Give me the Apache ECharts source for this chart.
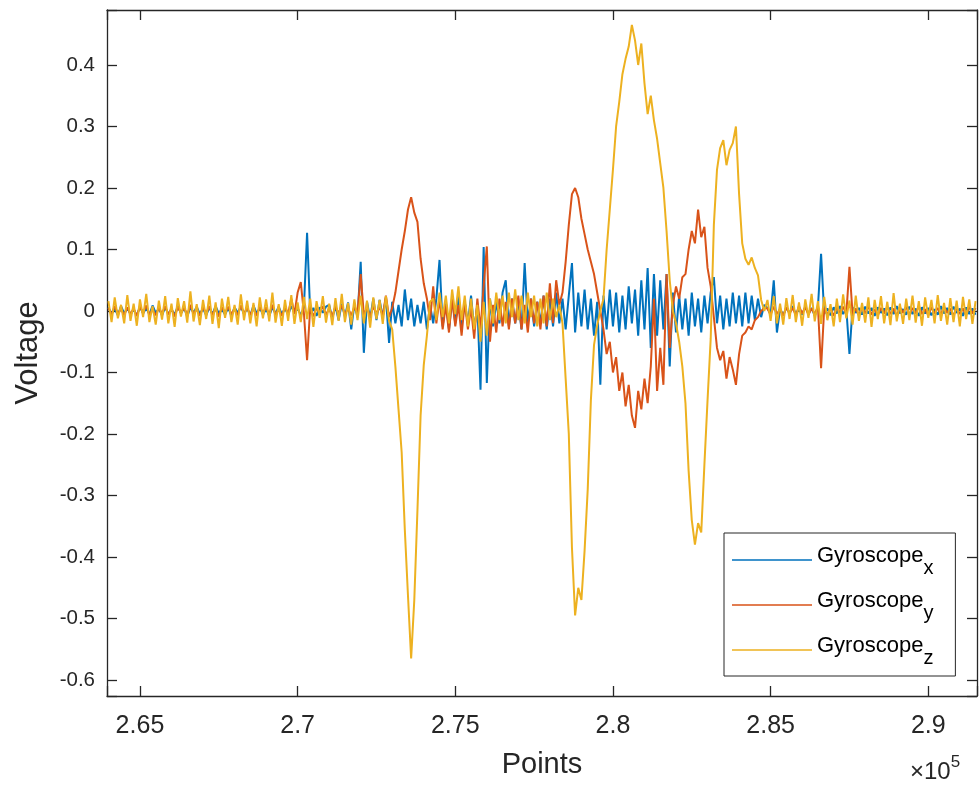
<!DOCTYPE html>
<html><head><meta charset="utf-8">
<script src="https://cdn.jsdelivr.net/npm/echarts@6/dist/echarts.min.js"></script>
<style>html,body{margin:0;padding:0;background:#fff}#c{width:980px;height:789px}</style>
</head><body><div id="c"></div>
<script>
// sample numbering of the plotted points (every 100th sample)
const sampleStart = 264000;
const sampleStep = 100;

const gyroX = [
0.006,-0.005,0.004,-0.007,0.008,-0.004,0.005,-0.006,0.003,-0.008,
0.007,-0.004,0.005,-0.006,0.009,-0.003,0.004,-0.007,0.006,-0.005,
0.003,-0.006,0.008,-0.004,0.005,-0.009,0.006,-0.003,0.007,-0.005,
0.004,-0.007,0.006,-0.005,0.008,-0.004,0.003,-0.006,0.005,-0.008,
0.006,-0.003,0.007,-0.005,0.004,-0.007,0.009,-0.004,0.005,-0.006,
0.003,-0.008,0.006,-0.004,0.007,-0.005,0.004,-0.006,0.008,-0.003,
0.005,-0.007,0.006,0.127,-0.004,0.005,-0.008,0.006,-0.003,0.007,
0.010,-0.012,0.008,-0.015,0.012,-0.009,0.014,-0.030,0.011,-0.010,
0.080,-0.068,0.015,-0.012,0.020,-0.015,0.018,-0.010,0.022,-0.052,
0.015,-0.02,0.01,-0.025,0.035,-0.015,0.02,-0.025,0.01,-0.02,
0.015,-0.03,0.01,-0.02,0.02,0.083,-0.025,0.015,-0.03,0.02,
-0.02,0.025,-0.025,0.015,-0.02,0.025,-0.03,0.01,-0.128,0.104,
-0.117,0.02,-0.025,0.015,-0.02,0.03,0.05,-0.025,0.02,-0.02,
0.015,-0.03,0.078,-0.02,0.02,-0.025,0.015,-0.02,0.025,-0.03,
0.02,-0.025,0.03,-0.02,
0.02,-0.03,0.025,0.078,-0.035,0.03,-0.025,0.035,-0.03,0.02,
-0.04,0.015,-0.12,0.025,-0.03,0.035,-0.025,0.03,-0.035,0.025,
-0.03,0.04,-0.02,0.035,-0.04,0.05,-0.03,0.07,-0.06,0.06,
-0.04,0.05,-0.03,0.06,-0.09,0.03,-0.035,0.025,-0.03,0.02,
-0.04,0.03,-0.025,0.02,-0.035,0.025,-0.02,0.03,0.055,-0.02,
0.025,-0.03,0.02,-0.025,0.03,-0.02,0.025,-0.025,0.03,-0.02,
0.025,-0.015,0.02,-0.01,0.01,
0.005,-0.006,0.050,-0.035,0.004,-0.007,0.006,-0.004,0.008,-0.005,
0.003,-0.006,0.007,-0.004,0.005,-0.008,0.006,0.093,-0.005,0.004,
-0.007,0.006,-0.004,0.008,-0.005,0.004,-0.070,0.006,-0.003,0.005,
-0.006,0.007,-0.004,0.005,-0.008,0.006,-0.003,0.004,-0.007,0.006,
-0.005,0.008,-0.004,0.003,-0.006,0.007,-0.005,0.004,-0.008,0.006,
-0.004,0.005,-0.007,0.003,-0.006,0.008,-0.004,0.005,-0.006,0.007,
-0.003,0.004,-0.008,0.006,-0.005,0.004,-0.006
];

const gyroY = [
0.005,-0.006,0.008,-0.004,0.003,-0.007,0.006,-0.005,0.004,-0.008,
0.007,-0.003,0.009,-0.006,0.002,-0.007,0.005,-0.004,0.008,-0.006,
0.004,-0.009,0.006,-0.003,0.005,-0.006,0.010,-0.005,0.003,-0.008,
0.006,-0.004,0.008,-0.007,0.004,-0.009,0.006,-0.003,0.007,-0.005,
0.003,-0.007,0.009,-0.004,0.005,-0.006,0.004,-0.008,0.007,-0.003,
0.006,-0.005,0.010,-0.006,0.003,-0.008,0.006,-0.004,0.020,-0.005,
0.030,0.047,-0.004,-0.080,0.006,-0.009,0.005,-0.003,0.008,-0.006,
0.004,-0.008,0.007,-0.004,0.009,-0.005,0.004,-0.007,0.006,-0.004,
0.060,-0.006,0.005,-0.009,0.007,-0.004,0.006,-0.007,0.025,-0.010,
0.005,0.03,0.065,0.10,0.13,0.165,0.185,0.16,0.145,0.085,0.045,0.02,-0.015,
0.04,-0.02,0.02,-0.03,0.01,-0.035,0.02,-0.025,0.01,-0.04,
0.015,-0.03,0.005,-0.045,0.02,-0.03,0.04,0.105,-0.05,0.01,
-0.035,0.02,-0.025,0.015,-0.03,0.02,-0.02,0.025,-0.03,0.01,
-0.035,0.02,-0.02,0.015,-0.03,0.025,-0.025,0.045,-0.02,0.05,
0.01,
0.03,0.08,0.14,0.19,0.20,0.185,0.15,0.125,0.10,0.08,0.06,0.03,0.0,
-0.03,-0.07,-0.05,-0.10,-0.075,-0.13,-0.10,-0.155,-0.12,-0.17,-0.19,
-0.13,-0.16,-0.11,-0.15,-0.09,0.02,-0.13,-0.06,-0.12,0.06,-0.06,
0.01,0.04,0.02,0.055,0.06,0.10,0.13,0.11,0.165,0.12,0.137,0.07,0.04,-0.01,
-0.06,-0.08,-0.065,-0.11,-0.075,-0.095,-0.12,-0.07,-0.04,-0.035,-0.025,-0.03,
-0.015,-0.01,0.0,0.005,
0.004,-0.006,0.007,-0.005,0.003,-0.008,0.006,-0.004,0.005,-0.007,
0.008,-0.004,0.006,-0.006,0.004,-0.005,0.007,-0.093,0.005,-0.006,
0.004,-0.008,0.006,-0.003,0.007,-0.005,0.072,-0.006,0.004,-0.007,
0.006,-0.004,0.008,-0.006,0.003,-0.007,0.005,-0.004,0.007,-0.005,
0.004,-0.008,0.006,-0.003,0.007,-0.006,0.005,-0.004,0.008,-0.005,
0.003,-0.007,0.006,-0.004,0.005,-0.006,0.007,-0.003,0.004,-0.008,
0.006,-0.005,0.004,-0.006,0.007,-0.004,0.005
];

const gyroZ = [
0.016,-0.018,0.022,-0.012,0.010,-0.020,0.026,-0.016,0.012,-0.024,
0.019,-0.010,0.028,-0.018,0.008,-0.022,0.017,-0.014,0.024,-0.020,
0.012,-0.026,0.021,-0.009,0.016,-0.019,0.032,-0.017,0.011,-0.023,
0.018,-0.013,0.025,-0.021,0.014,-0.028,0.020,-0.011,0.023,-0.018,
0.010,-0.022,0.027,-0.015,0.017,-0.020,0.013,-0.025,0.022,-0.012,
0.019,-0.017,0.030,-0.019,0.011,-0.024,0.018,-0.016,0.026,-0.021,
0.014,-0.018,0.023,-0.013,0.020,-0.026,0.016,-0.011,0.024,-0.019,
0.012,-0.023,0.021,-0.016,0.028,-0.018,0.013,-0.022,0.019,-0.015,
0.025,-0.020,0.017,-0.027,0.022,-0.013,0.018,-0.021,0.024,-0.016,
-0.03,-0.09,-0.16,-0.23,-0.356,-0.463,-0.565,-0.47,-0.324,-0.17,-0.088,-0.04,0.015,
0.02,-0.015,0.03,-0.01,0.025,-0.02,0.035,-0.005,0.04,-0.015,
0.025,-0.025,0.02,-0.03,0.01,-0.05,0.015,-0.04,0.02,-0.02,
0.03,-0.015,0.025,-0.02,0.03,-0.01,0.035,-0.015,0.025,-0.02,
0.03,-0.01,0.025,-0.025,0.02,-0.02,0.03,-0.015,0.02,-0.01,
0.01,
-0.02,-0.11,-0.2,-0.385,-0.495,-0.45,-0.47,-0.39,-0.29,-0.145,-0.055,-0.023,0.0,
0.02,0.10,0.165,0.23,0.30,0.34,0.385,0.41,0.43,0.465,0.44,
0.40,0.435,0.37,0.32,0.35,0.31,0.28,0.24,0.20,0.13,0.05,
0.0,-0.02,-0.05,-0.09,-0.15,-0.26,-0.34,-0.38,-0.345,-0.36,-0.25,-0.145,-0.045,
0.14,0.23,0.265,0.278,0.237,0.262,0.273,0.30,0.19,0.11,0.085,0.075,0.087,0.07,0.058,0.018,0.0,
0.018,-0.016,0.024,-0.020,0.012,-0.022,0.021,-0.013,0.026,-0.018,
0.014,-0.024,0.019,-0.011,0.028,-0.017,0.016,-0.021,0.023,-0.015,
0.011,-0.025,0.020,-0.018,0.027,-0.012,0.017,-0.022,0.025,-0.016,
0.013,-0.019,0.022,-0.026,0.018,-0.013,0.024,-0.020,0.015,-0.023,
0.029,-0.017,0.012,-0.021,0.020,-0.015,0.025,-0.019,0.016,-0.024,
0.022,-0.011,0.018,-0.020,0.026,-0.016,0.013,-0.022,0.021,-0.018,
0.017,-0.025,0.023,-0.013,0.019,-0.021,0.016
];

const xTickValues = [265000, 270000, 275000, 280000, 285000, 290000];
const xTickLabels = ['2.65', '2.7', '2.75', '2.8', '2.85', '2.9'];
const yTickValues = [-0.6, -0.5, -0.4, -0.3, -0.2, -0.1, 0, 0.1, 0.2, 0.3, 0.4];
const yTickLabels = ['-0.6', '-0.5', '-0.4', '-0.3', '-0.2', '-0.1', '0', '0.1', '0.2', '0.3', '0.4'];
const seriesNames = ['Gyroscope x', 'Gyroscope y', 'Gyroscope z'];
const seriesSubs = ['x', 'y', 'z'];
const seriesColors = ['#0072BD', '#D95319', '#EDB120'];
const xUnitText = '×10';
const xUnitExp = '5';

const FONT = 'Liberation Sans, Arial, Helvetica, sans-serif';
const INK = '#262626';

function toPairs(vals) {
  return vals.map((v, i) => [sampleStart + i * sampleStep, v]);
}
function pickLabel(values, labels, tol) {
  return function (v) {
    for (let k = 0; k < values.length; k++) {
      if (Math.abs(values[k] - v) < tol) return labels[k];
    }
    return '';
  };
}

const axisLineStyle = { color: INK, width: 1.3 };
const chart = echarts.init(document.getElementById('c'), null, { renderer: 'canvas' });

const seriesData = [gyroX, gyroY, gyroZ];
chart.setOption({
  animation: false,
  backgroundColor: '#ffffff',
  grid: { left: 107, right: 3, top: 10, bottom: 93, containLabel: false, outerBoundsMode: 'none' },
  xAxis: [{
    type: 'value', min: 263955, max: 291545, splitNumber: 5, position: 'bottom',
    axisLine: { show: true, onZero: false, lineStyle: axisLineStyle },
    axisTick: { show: true, inside: true, length: 10, lineStyle: axisLineStyle },
    splitLine: { show: false },
    axisLabel: { show: true, margin: 18, fontSize: 25, color: INK, fontFamily: FONT,
      formatter: pickLabel(xTickValues, xTickLabels, 1), showMinLabel: true, showMaxLabel: true, hideOverlap: false },
    name: 'Points', nameLocation: 'middle', nameGap: 54,
    nameTextStyle: { fontSize: 29, color: INK, fontFamily: FONT }
  }, {
    type: 'value', min: 263955, max: 291545, splitNumber: 5, position: 'top',
    axisLine: { show: true, onZero: false, lineStyle: axisLineStyle },
    axisTick: { show: true, inside: true, length: 10, lineStyle: axisLineStyle },
    splitLine: { show: false }, axisLabel: { show: false }
  }],
  yAxis: [{
    type: 'value', min: -0.626, max: 0.4894, splitNumber: 11, position: 'left',
    axisLine: { show: true, onZero: false, lineStyle: axisLineStyle },
    axisTick: { show: true, inside: true, length: 10, lineStyle: axisLineStyle },
    splitLine: { show: false },
    axisLabel: { show: true, margin: 12, fontSize: 20.5, color: INK, fontFamily: FONT,
      padding: [8, 0, 0, 0],
      formatter: pickLabel(yTickValues, yTickLabels, 1e-6), showMinLabel: true, showMaxLabel: true, hideOverlap: false },
    name: 'Voltage', nameLocation: 'middle', nameGap: 63,
    nameTextStyle: { fontSize: 31, color: INK, fontFamily: FONT }
  }, {
    type: 'value', min: -0.626, max: 0.4894, splitNumber: 11, position: 'right',
    axisLine: { show: true, onZero: false, lineStyle: axisLineStyle },
    axisTick: { show: true, inside: true, length: 10, lineStyle: axisLineStyle },
    splitLine: { show: false }, axisLabel: { show: false }
  }],
  legend: {
    orient: 'vertical', left: 724, top: 533,
    padding: [12, 22, 8, 8], itemGap: 12, itemWidth: 80, itemHeight: 9.5,
    icon: 'path://M0,0 L0,0.01 Z M0,8 L80,8 L80,9.5 L0,9.5 Z',
    itemStyle: { borderWidth: 0 },
    borderColor: INK, borderWidth: 1, borderRadius: 0, backgroundColor: '#ffffff',
    data: seriesNames,
    formatter: function (name) {
      const k = seriesNames.indexOf(name);
      return '{g|Gyroscope}{s|' + seriesSubs[k] + '}';
    },
    textStyle: {
      color: '#000', fontFamily: FONT,
      rich: {
        g: { fontSize: 22, lineHeight: 22, verticalAlign: 'top', fontFamily: FONT, color: '#000' },
        s: { fontSize: 20, lineHeight: 22, padding: [13, 0, 0, 0], verticalAlign: 'top', fontFamily: FONT, color: '#000' }
      }
    }
  },
  graphic: [{
    type: 'text', left: 910, top: 754, silent: true,
    style: {
      text: '{a|' + xUnitText + '}{b|' + xUnitExp + '}',
      rich: {
        a: { fontSize: 24, fontFamily: FONT, fill: INK, lineHeight: 30, verticalAlign: 'bottom', padding: [6, 0, 0, 0] },
        b: { fontSize: 17, fontFamily: FONT, fill: INK, lineHeight: 18, verticalAlign: 'top' }
      }
    }
  }],
  series: seriesData.map((vals, k) => ({
    type: 'line', name: seriesNames[k], xAxisIndex: 0, yAxisIndex: 0,
    data: toPairs(vals), showSymbol: false, symbol: 'none', silent: true,
    lineStyle: { color: seriesColors[k], width: 2 },
    itemStyle: { color: seriesColors[k] },
    emphasis: { disabled: true }, z: 2 + k
  }))
});
</script>
</body></html>
